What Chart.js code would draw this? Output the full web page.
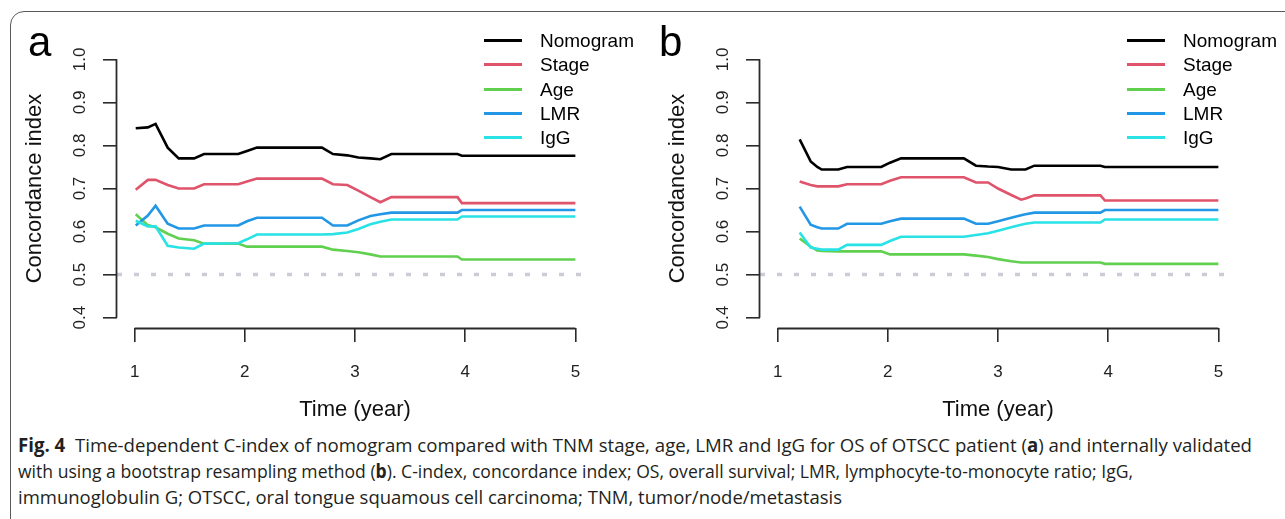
<!DOCTYPE html>
<html>
<head>
<meta charset="utf-8">
<script src="https://cdn.jsdelivr.net/npm/chart.js@4.4.1/dist/chart.umd.min.js"></script>
<style>
html, body { margin: 0; padding: 0; background: #fff; }
body { width: 1285px; height: 519px; position: relative; overflow: hidden; font-family: "Liberation Sans", Arial, sans-serif; }
#frame { position: absolute; left: 10px; top: 11px; width: 1300px; height: 522px; border: 1.5px solid #5a5a5a; border-radius: 14px; box-sizing: border-box; }
.panel { position: absolute; top: 0; }
.tag { position: absolute; font-size: 42px; line-height: 42px; color: #000; }
.leg { position: absolute; font-size: 19px; line-height: 24px; color: #000; height: 24px; }
.leg .sw { position: absolute; left: 0; width: 38px; height: 3px; top: 10px; }
.leg .tx { position: absolute; left: 56px; top: 0; white-space: nowrap; }
#caption { position: absolute; left: 18px; top: 0; font-family: "Open Sans", "Noto Sans", sans-serif; font-size: 19px; color: #231f20; }
#caption div { position: absolute; left: 0; line-height: 24px; white-space: nowrap; transform-origin: 0 50%; }
</style>
</head>
<body>
<div id="frame"></div>
<canvas id="chartA" class="panel" width="643" height="430" style="left:0px"></canvas>
<canvas id="chartB" class="panel" width="643" height="430" style="left:643px"></canvas>
<div class="tag" style="left:28px;top:21px">a</div>
<div class="tag" style="left:659px;top:21px">b</div>
<div id="legA"></div>
<div id="legB"></div>
<div id="caption">
  <div id="cap1" style="top:433px"><b>Fig. 4</b>&nbsp; Time-dependent C-index of nomogram compared with TNM stage, age, LMR and IgG for OS of OTSCC patient (<b>a</b>) and internally validated</div>
  <div id="cap2" style="top:459px">with using a bootstrap resampling method (<b>b</b>). C-index, concordance index; OS, overall survival; LMR, lymphocyte-to-monocyte ratio; IgG,</div>
  <div id="cap3" style="top:485px">immunoglobulin G; OTSCC, oral tongue squamous cell carcinoma; TNM, tumor/node/metastasis</div>
</div>
<script>
// series names + colours (R 4 palette)
const seriesLabels = ['Nomogram', 'Stage', 'Age', 'LMR', 'IgG'];
const seriesColors = ['#000000', '#DF536B', '#61D04F', '#2297E6', '#28E2E5'];
const xTicks = [1, 2, 3, 4, 5];
const yTicks = [0.4, 0.5, 0.6, 0.7, 0.8, 0.9, 1.0];
const xLimits = [0.84, 5.16];
const yLimits = [0.376, 1.024];
const refLevel = 0.5;

// panel a: apparent C-index
const timeA     = [1.01, 1.12, 1.19, 1.30, 1.40, 1.54, 1.63, 1.94, 2.02, 2.11, 2.70, 2.80, 2.93, 3.03, 3.14, 3.23, 3.33, 3.93, 3.97, 5.00];
const nomogramA = [0.840, 0.842, 0.850, 0.795, 0.770, 0.770, 0.780, 0.780, 0.787, 0.795, 0.795, 0.780, 0.777, 0.772, 0.770, 0.768, 0.780, 0.780, 0.776, 0.776];
const stageA    = [0.697, 0.720, 0.720, 0.708, 0.700, 0.700, 0.710, 0.710, 0.716, 0.723, 0.723, 0.710, 0.708, 0.695, 0.680, 0.668, 0.680, 0.680, 0.666, 0.666];
const ageA      = [0.640, 0.615, 0.610, 0.595, 0.584, 0.580, 0.572, 0.572, 0.565, 0.565, 0.565, 0.558, 0.555, 0.552, 0.547, 0.542, 0.542, 0.542, 0.535, 0.535];
const lmrA      = [0.614, 0.637, 0.660, 0.618, 0.607, 0.607, 0.614, 0.614, 0.624, 0.632, 0.632, 0.614, 0.614, 0.626, 0.636, 0.640, 0.644, 0.644, 0.650, 0.650];
const iggA      = [0.625, 0.612, 0.612, 0.567, 0.563, 0.560, 0.572, 0.573, 0.582, 0.593, 0.593, 0.594, 0.598, 0.606, 0.617, 0.623, 0.628, 0.628, 0.635, 0.635];

// panel b: bootstrap validated
const timeB     = [1.20, 1.30, 1.36, 1.40, 1.55, 1.63, 1.94, 2.02, 2.12, 2.69, 2.80, 2.91, 3.00, 3.12, 3.21, 3.25, 3.33, 3.93, 3.97, 5.00];
const nomogramB = [0.814, 0.763, 0.750, 0.744, 0.744, 0.750, 0.750, 0.760, 0.770, 0.770, 0.753, 0.751, 0.750, 0.744, 0.744, 0.744, 0.753, 0.753, 0.750, 0.750];
const stageB    = [0.716, 0.708, 0.705, 0.705, 0.705, 0.710, 0.710, 0.718, 0.726, 0.726, 0.714, 0.714, 0.700, 0.685, 0.674, 0.677, 0.684, 0.684, 0.672, 0.672];
const ageB      = [0.584, 0.565, 0.556, 0.555, 0.554, 0.554, 0.554, 0.547, 0.547, 0.547, 0.544, 0.541, 0.536, 0.531, 0.528, 0.528, 0.528, 0.528, 0.525, 0.525];
const lmrB      = [0.658, 0.616, 0.610, 0.607, 0.607, 0.618, 0.618, 0.624, 0.630, 0.630, 0.618, 0.618, 0.624, 0.632, 0.638, 0.640, 0.644, 0.644, 0.650, 0.650];
const iggB      = [0.598, 0.563, 0.560, 0.558, 0.558, 0.569, 0.569, 0.578, 0.588, 0.588, 0.592, 0.596, 0.602, 0.610, 0.616, 0.618, 0.621, 0.621, 0.628, 0.628];

const axisFont = "'Liberation Sans', Arial, sans-serif";

// R-style axis lines that only span the tick range
const rAxes = {
  id: 'rAxes',
  afterDraw(chart) {
    const ctx = chart.ctx;
    const area = chart.chartArea;
    const x = chart.scales.x, y = chart.scales.y;
    const left = Math.round(area.left) - 0.5;
    const bottom = Math.round(area.bottom) + 0.5;
    ctx.save();
    ctx.strokeStyle = '#2b2b2b';
    ctx.lineWidth = 1.8;
    ctx.beginPath();
    ctx.moveTo(left, y.getPixelForValue(yTicks[0]));
    ctx.lineTo(left, y.getPixelForValue(yTicks[yTicks.length - 1]));
    ctx.moveTo(x.getPixelForValue(xTicks[0]), bottom);
    ctx.lineTo(x.getPixelForValue(xTicks[xTicks.length - 1]), bottom);
    ctx.stroke();
    ctx.restore();
  }
};

function makeChart(id, time, values) {
  const datasets = values.map((vals, i) => ({
    label: seriesLabels[i],
    data: time.map((t, k) => ({ x: t, y: vals[k] })),
    borderColor: seriesColors[i],
    borderWidth: 2.6,
    pointRadius: 0,
    tension: 0,
    order: values.length - i
  }));
  datasets.push({
    label: 'ref',
    data: xLimits.map(v => ({ x: v, y: refLevel })),
    borderColor: '#cfcbd6',
    borderWidth: 3.5,
    borderDash: [5, 12],
    pointRadius: 0,
    order: 10
  });

  return new Chart(document.getElementById(id), {
    type: 'line',
    data: { datasets: datasets },
    plugins: [rAxes],
    options: {
      responsive: false,
      animation: false,
      layout: { padding: { top: 49, right: 50, left: 0, bottom: 0 } },
      plugins: { legend: { display: false }, tooltip: { enabled: false } },
      scales: {
        x: {
          type: 'linear',
          min: xLimits[0], max: xLimits[1],
          afterBuildTicks: s => { s.ticks = xTicks.map(v => ({ value: v })); },
          afterFit: s => { s.height = 102; },
          border: { display: false },
          grid: { drawOnChartArea: false, tickLength: 14, color: '#2b2b2b', lineWidth: 1.6 },
          ticks: { color: '#222', padding: 20, maxRotation: 0, font: { family: axisFont, size: 17 } },
          title: { display: true, text: 'Time (year)', color: '#111', padding: { top: 0, bottom: 7 }, font: { family: axisFont, size: 22 } }
        },
        y: {
          min: yLimits[0], max: yLimits[1],
          afterBuildTicks: s => { s.ticks = yTicks.map(v => ({ value: v })); },
          afterFit: s => { s.width = 117; },
          border: { display: false },
          grid: { drawOnChartArea: false, tickLength: 14, color: '#2b2b2b', lineWidth: 1.6 },
          ticks: {
            color: '#222', padding: 11, minRotation: 90, maxRotation: 90, crossAlign: 'center',
            font: { family: axisFont, size: 17 },
            callback: v => Number(v).toFixed(1)
          },
          title: { display: true, text: 'Concordance index', color: '#111', padding: { top: 22, bottom: 0 }, font: { family: axisFont, size: 22 } }
        }
      }
    }
  });
}

makeChart('chartA', timeA, [nomogramA, stageA, ageA, lmrA, iggA]);
makeChart('chartB', timeB, [nomogramB, stageB, ageB, lmrB, iggB]);

// legends (top right of each panel)
function buildLegend(id, left) {
  const box = document.getElementById(id);
  const rowY = [29, 53, 78, 102, 126];
  seriesLabels.forEach((name, i) => {
    const row = document.createElement('div');
    row.className = 'leg';
    row.style.left = left + 'px';
    row.style.top = rowY[i] + 'px';
    row.innerHTML = '<div class="sw" style="background:' + seriesColors[i] + '"></div><div class="tx">' + name + '</div>';
    box.appendChild(row);
  });
}
buildLegend('legA', 484);
buildLegend('legB', 1127);

// squeeze caption lines to the widths seen in the figure
function fitCaption() {
  const targets = { cap1: 1234, cap2: 1115, cap3: 824 };
  Object.keys(targets).forEach(id => {
    const el = document.getElementById(id);
    el.style.transform = 'none';
    const w = el.getBoundingClientRect().width;
    el.style.transform = 'scaleX(' + (targets[id] / w) + ')';
  });
}
fitCaption();
document.fonts.ready.then(fitCaption);
</script>
</body>
</html>
